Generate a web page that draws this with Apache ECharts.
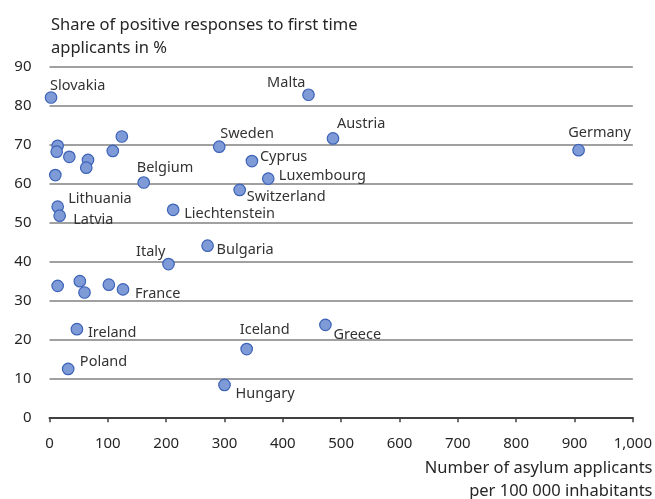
<!DOCTYPE html>
<html><head><meta charset="utf-8">
<script src="https://cdn.jsdelivr.net/npm/echarts@6/dist/echarts.min.js"></script>
<style>html,body{margin:0;padding:0;background:#fff}#c{width:655px;height:499px}</style>
</head><body><div id="c"></div>
<script>
// Data
const names = ['Slovakia','Malta','Austria','Germany','Sweden','Cyprus','Luxembourg','Switzerland','Belgium','Liechtenstein','Lithuania','Latvia','Bulgaria','Italy','France','Greece','Ireland','Iceland','Poland','Hungary','','','','','','','','','','','',''];
const applicants = [2.6,444,486,907,291,347,375,326,161.5,212,14,17.4,271,204,126,473,47,338,32,300,14,12.3,34,66,63,124,108.5,10,14,52,60,101.7];
const positiveShare = [82.0,82.7,71.5,68.5,69.4,65.7,61.2,58.3,60.2,53.2,54.0,51.7,44.0,39.3,32.8,23.7,22.6,17.5,12.4,8.3,69.6,68.1,66.8,66.0,64.0,72.0,68.3,62.1,33.7,34.9,32.0,34.0];
const xTicks = [0,100,200,300,400,500,600,700,800,900,1000];
const yTicks = [0,10,20,30,40,50,60,70,80,90];
const yTitle = ['Share of positive responses to first time', 'applicants in %'];
const xTitle = ['Number of asylum applicants', 'per 100 000 inhabitants'];

// Label placement (style only)
const labelPlace = {
  'Slovakia':[-1,-13,'left'],'Malta':[-3,-12.5,'right'],'Austria':[4,-16,'left'],'Germany':[21,-18,'center'],
  'Sweden':[1,-14,'left'],'Cyprus':[8,-5,'left'],'Luxembourg':[10.6,-4,'left'],'Switzerland':[7,6,'left'],
  'Belgium':[-7,-16,'left'],'Liechtenstein':[11,3,'left'],'Lithuania':[10.6,-9,'left'],'Latvia':[13.6,3,'left'],
  'Bulgaria':[9,3,'left'],'Italy':[-3,-13,'right'],'France':[12,3,'left'],'Greece':[8,9,'left'],
  'Ireland':[11,3,'left'],'Iceland':[18,-20,'center'],'Poland':[11.7,-8,'left'],'Hungary':[11,8,'left']
};
const FONT = 'Noto Sans';
const data = names.map((n,i)=>{
  const item = {name:n, value:[applicants[i], positiveShare[i]]};
  const p = labelPlace[n];
  if (p) {
    item.label = {show:true, position:'inside', formatter:n, align:p[2], verticalAlign:'middle',
      offset:[p[0],p[1]+1], color:'#333', fontSize:14.5, fontFamily:FONT};
  }
  return item;
});

const txt = (s, x, y, align) => ({type:'text', x:x, y:y, style:{text:s, fill:'#262626',
  font:'16.5px "'+FONT+'"', align:align, verticalAlign:'middle'}});

const chart = echarts.init(document.getElementById('c'));
chart.setOption({
  animation:false,
  grid:{left:49.5, right:20.5, top:66.3, bottom:81.7},
  xAxis:{type:'value', min:0, max:1000, interval:100,
    axisLine:{show:true, lineStyle:{color:'#404040', width:2}},
    axisTick:{show:true, length:5, lineStyle:{color:'#404040', width:1.5}},
    splitLine:{show:false},
    axisLabel:{color:'#262626', fontSize:15, fontFamily:FONT, margin:19,
      formatter:v=>xTicks.includes(v)? v.toLocaleString('en-US'):''}
  },
  yAxis:{type:'value', min:0, max:90, interval:10,
    axisLine:{show:false}, axisTick:{show:false},
    splitLine:{show:true, lineStyle:{color:'#808080', width:1.5}},
    axisLabel:{color:'#262626', fontSize:15, fontFamily:FONT, margin:18,
      formatter:v=>yTicks.includes(v)? String(v):''}
  },
  graphic:[
    txt(yTitle[0], 51, 25, 'left'),
    txt(yTitle[1], 51, 48, 'left'),
    txt(xTitle[0], 652.5, 468.5, 'right'),
    txt(xTitle[1], 652.5, 491, 'right')
  ],
  series:[{type:'scatter', symbolSize:11.5, data:data,
    itemStyle:{color:'#7f9bd7', borderColor:'#3d63b8', borderWidth:1.2, opacity:1},
    label:{show:false}
  }]
});
</script></body></html>
